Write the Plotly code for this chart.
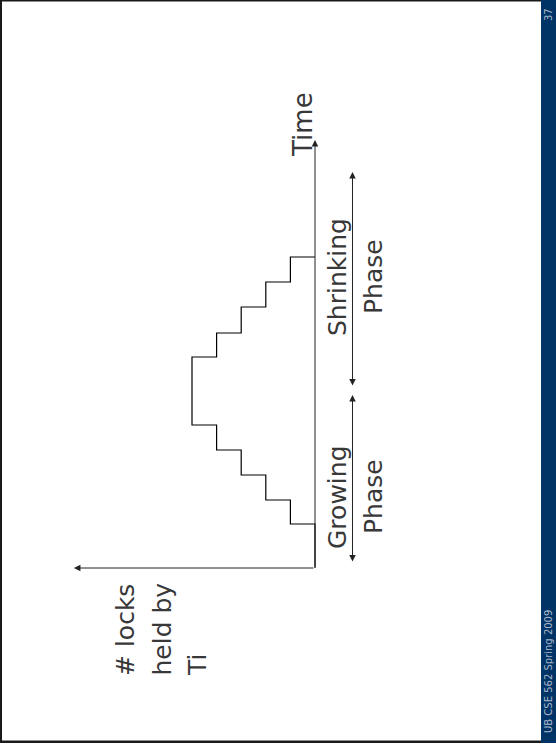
import plotly.graph_objects as go

# ---- data ----
time_points = [0, 1.76, 2.72, 3.72, 4.72, 5.72, 8.44, 9.4, 10.44, 11.44, 12.44]
locks_held = [0, 1, 2, 3, 4, 5, 4, 3, 2, 1, 0]
time_axis_end = 17.12
locks_axis_end = 9.8
growing_phase = [0.2, 6.92]
shrinking_phase = [7.24, 15.84]
phase_arrow_pos = -1.524

W, H = 556, 747
FONT = "DejaVu Sans"
TXT = "#383838"


def px(x):
    return x / W


def py(y):
    return 1 - y / H


fig = go.Figure()

# step line of locks held over time (slide rotated: x = locks, y = time)
fig.add_trace(go.Scatter(
    x=locks_held, y=time_points, mode="lines",
    line=dict(color="black", width=1.2, shape="vh"),
    hoverinfo="skip", showlegend=False))

ann = []
# axes arrows
ann.append(dict(x=0, y=time_axis_end, ax=0, ay=0, xref="x", yref="y",
                axref="x", ayref="y", text="", showarrow=True,
                arrowhead=2, arrowsize=1.3, arrowwidth=1, arrowcolor="#222",
                standoff=0))
ann.append(dict(x=locks_axis_end, y=0, ax=0, ay=0, xref="x", yref="y",
                axref="x", ayref="y", text="", showarrow=True,
                arrowhead=2, arrowsize=1.3, arrowwidth=1, arrowcolor="#222",
                standoff=0))
# phase arrows (double headed)
for lo, hi in (growing_phase, shrinking_phase):
    ann.append(dict(x=phase_arrow_pos, y=hi, ax=phase_arrow_pos, ay=lo,
                    xref="x", yref="y", axref="x", ayref="y", text="",
                    showarrow=True, arrowhead=2, startarrowhead=2,
                    arrowside="end+start", arrowsize=1.3, startarrowsize=1.3,
                    arrowwidth=1, arrowcolor="#222", standoff=0, startstandoff=0))


def label(text, x, y, size=25, color=TXT, yanchor="middle"):
    ann.append(dict(x=px(x), y=py(y), xref="paper", yref="paper", text=text,
                    showarrow=False, textangle=-90, xanchor="center",
                    yanchor=yanchor,
                    font=dict(family=FONT, size=size, color=color)))


label("Time", 303, 125, size=26)
label("Shrinking", 338, 277)
label("Phase", 374, 277)
label("Growing", 338, 497)
label("Phase", 374, 497)
label("# locks", 125, 678, yanchor="bottom")
label("held by", 162, 678, yanchor="bottom")
label("Ti", 197, 678, yanchor="bottom")
label("37", 548, 15, size=10, color="#aab8cc")
label("UB CSE 562 Spring 2009", 548, 672, size=10, color="#aab8cc")

shapes = [
    # blue side bar
    dict(type="rect", xref="paper", yref="paper", x0=px(541), x1=1,
         y0=py(743), y1=1, fillcolor="#003366", line_width=0, layer="above"),
    # dark slide frame
    dict(type="rect", xref="paper", yref="paper", x0=0, x1=px(2),
         y0=py(743), y1=1, fillcolor="#1a1a1a", line_width=0, layer="above"),
    dict(type="rect", xref="paper", yref="paper", x0=0, x1=px(541),
         y0=py(1.5), y1=1, fillcolor="#1a1a1a", line_width=0, layer="above"),
    dict(type="rect", xref="paper", yref="paper", x0=0, x1=px(541),
         y0=py(743), y1=py(740.5), fillcolor="#1a1a1a", line_width=0,
         layer="above"),
]

fig.update_layout(
    width=W, height=H, margin=dict(l=0, r=0, t=0, b=0),
    paper_bgcolor="white", plot_bgcolor="white",
    xaxis=dict(range=[315 / 24.6, (315 - W) / 24.6], visible=False,
               fixedrange=True),
    yaxis=dict(range=[(568 - H) / 25, 568 / 25], visible=False,
               fixedrange=True),
    annotations=ann, shapes=shapes, showlegend=False)

fig.write_html("out.html", config={"displayModeBar": False},
               post_script="document.body.style.margin='0';")
